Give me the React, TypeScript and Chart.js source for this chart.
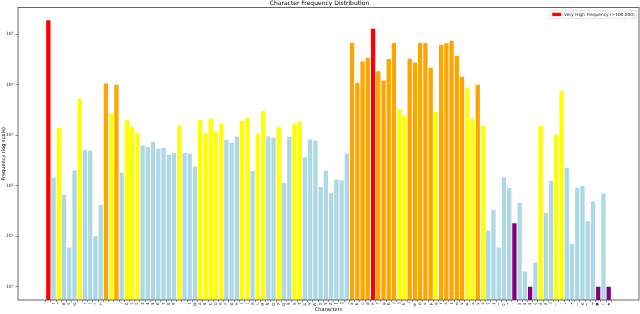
import React, { useEffect, useRef } from "react";
import { Chart, registerables } from "chart.js";

Chart.register(...registerables);

const FONT = "'DejaVu Sans', 'Liberation Sans', sans-serif";

const chars: string[] = [
  " ", "!", "\"", "#", "$", "%", "'", "(", ")", "*", "+", ",", "-", ".", "/",
  "0", "1", "2", "3", "4", "5", "6", "7", "8", "9",
  ":", ";", "?", "@",
  "A", "B", "C", "D", "E", "F", "G", "H", "I", "J", "K", "L", "M", "N", "O", "P", "Q", "R", "S", "T", "U", "V", "W", "X", "Y", "Z",
  "[", "]", "_",
  "a", "b", "c", "d", "e", "f", "g", "h", "i", "j", "k", "l", "m", "n", "o", "p", "q", "r", "s", "t", "u", "v", "w", "x", "y", "z",
  "{", "}", "~", "©", "°", "´", "à", "â", "ä", "ç", "é", "ê", "ï", "—", "’", "“", "•", "…", "€", "™", "→", "♥", "✓", "★",
];

const frequencies: number[] = [
  189000, 145, 1410, 66, 6, 200, 5300, 515, 492, 10, 42, 10660, 2670, 10050, 180,
  2000, 1475, 1120, 628, 583, 743, 540, 565, 410, 443,
  1565, 443, 435, 240,
  2000, 1105, 2155, 1163, 1667, 803, 710, 947, 1966, 2224, 195, 1086, 3020, 947, 893, 1475, 114, 934, 1714, 1853, 369, 826, 778, 94, 198, 72,
  133, 129, 435,
  68400, 11000, 29100, 34500, 129700, 18450, 12220, 32500, 67500, 3310, 2470, 32950, 27800, 68400, 67500, 21850, 2885, 62500, 66250, 75000, 37250, 14480, 8880, 2125, 10050, 1523,
  13, 33, 6, 148, 90, 18, 46, 2, 1, 3, 1523, 29, 125, 1037, 7640, 227, 7, 91, 100, 20, 49, 1, 70, 1,
];

// R = very high, O = high, Y = medium, B = low, P = rare
const groups: string[] = [
  "R", "B", "Y", "B", "B", "B", "Y", "B", "B", "B", "B", "O", "Y", "O", "B",
  "Y", "Y", "Y", "B", "B", "B", "B", "B", "B", "B",
  "Y", "B", "B", "B",
  "Y", "Y", "Y", "Y", "Y", "B", "B", "B", "Y", "Y", "B", "Y", "Y", "B", "B", "Y", "B", "B", "Y", "Y", "B", "B", "B", "B", "B", "B",
  "B", "B", "B",
  "O", "O", "O", "O", "R", "O", "O", "O", "O", "Y", "Y", "O", "O", "O", "O", "O", "Y", "O", "O", "O", "O", "O", "Y", "Y", "O", "Y",
  "B", "B", "B", "B", "B", "P", "B", "B", "P", "B", "Y", "B", "B", "Y", "Y", "B", "B", "B", "B", "B", "B", "P", "B", "P",
];

const groupColors: Record<string, string> = {
  R: "#ff0000",
  O: "#ffa500",
  Y: "#ffff00",
  B: "#add8e6",
  P: "#800080",
};

const yTickValues: number[] = [1, 10, 100, 1000, 10000, 100000];
const supers = ["⁰", "¹", "²", "³", "⁴", "⁵", "⁶"];
const legendLabel = "Very High Frequency (>100,000)";

const framePlugin = {
  id: "frame",
  afterDatasetsDraw(chart: any) {
    const { ctx, chartArea: a } = chart;
    ctx.save();
    ctx.strokeStyle = "#444";
    ctx.lineWidth = 0.8;
    ctx.strokeRect(a.left, a.top, a.right - a.left, a.bottom - a.top);
    ctx.restore();
  },
};

const legendPlugin = {
  id: "insideLegend",
  afterDraw(chart: any) {
    const { ctx, chartArea: a } = chart;
    ctx.save();
    ctx.font = `4.3px ${FONT}`;
    const tw = ctx.measureText(legendLabel).width;
    const boxW = 2.3 + 9 + 3 + tw + 2;
    const boxH = 7.6;
    const x = a.right - 2.3 - boxW;
    const y = a.top + 3.2;
    ctx.fillStyle = "rgba(255,255,255,0.85)";
    ctx.strokeStyle = "#d0d0d0";
    ctx.lineWidth = 0.6;
    ctx.beginPath();
    ctx.rect(x, y, boxW, boxH);
    ctx.fill();
    ctx.stroke();
    ctx.fillStyle = groupColors.R;
    ctx.fillRect(x + 2.3, y + 2, 9, 3.4);
    ctx.fillStyle = "#222";
    ctx.textBaseline = "middle";
    ctx.textAlign = "left";
    ctx.fillText(legendLabel, x + 2.3 + 9 + 3, y + boxH / 2);
    ctx.restore();
  },
};

export default function App() {
  const ref = useRef<HTMLCanvasElement | null>(null);

  useEffect(() => {
    if (!ref.current) return;
    const chart = new Chart(ref.current, {
      type: "bar",
      data: {
        datasets: [
          {
            label: legendLabel,
            data: frequencies.map((v, i) => ({ x: i, y: v })),
            backgroundColor: groups.map((g) => groupColors[g]),
            borderWidth: 0,
            barPercentage: 0.82,
            categoryPercentage: 1,
          },
        ],
      },
      options: {
        responsive: false,
        animation: false,
        layout: { padding: { left: 0, right: 1, top: 0, bottom: 0 } },
        plugins: {
          legend: { display: false },
          tooltip: { enabled: false },
          title: {
            display: true,
            text: "Character Frequency Distribution",
            color: "#000",
            font: { family: FONT, size: 6, weight: "normal", lineHeight: 1 },
            padding: { top: 0.5, bottom: 1 },
          },
        },
        scales: {
          x: {
            type: "linear",
            min: -5.79,
            max: 112.79,
            offset: false,
            afterBuildTicks: (axis: any) => {
              axis.ticks = chars.map((_, i) => ({ value: i }));
            },
            afterFit: (axis: any) => {
              axis.height = 14;
            },
            ticks: {
              autoSkip: false,
              minRotation: 90,
              maxRotation: 90,
              padding: 0.5,
              color: "#222",
              font: { family: FONT, size: 4 },
              callback: (value: any) => {
                const i = Math.round(Number(value));
                return chars[i] ?? "";
              },
            },
            grid: {
              display: true,
              drawOnChartArea: false,
              drawTicks: true,
              tickLength: 2,
              color: "#444",
              lineWidth: 0.6,
            },
            border: { display: false },
            title: {
              display: true,
              text: "Characters",
              color: "#000",
              font: { family: FONT, size: 5, lineHeight: 1.2 },
              padding: { top: 0, bottom: 1 },
            },
          },
          y: {
            type: "logarithmic",
            min: 0.545,
            max: 340000,
            afterBuildTicks: (axis: any) => {
              axis.ticks = yTickValues.map((value) => ({ value }));
            },
            afterFit: (axis: any) => {
              axis.width = 18;
            },
            ticks: {
              autoSkip: false,
              padding: 2,
              color: "#222",
              font: { family: FONT, size: 4.5 },
              callback: (value: any) => {
                const e = Math.round(Math.log10(Number(value)));
                return "10" + (supers[e] ?? "");
              },
            },
            grid: {
              display: true,
              drawOnChartArea: false,
              drawTicks: true,
              tickLength: 2.5,
              color: "#444",
              lineWidth: 0.6,
            },
            border: { display: false },
            title: {
              display: true,
              text: "Frequency (log scale)",
              color: "#000",
              font: { family: FONT, size: 5, lineHeight: 1.2 },
              padding: { top: 1, bottom: 0 },
            },
          },
        },
      },
      plugins: [framePlugin, legendPlugin],
    } as any);
    return () => chart.destroy();
  }, []);

  return (
    <div style={{ position: "fixed", left: 0, top: 0, width: 640, height: 314, background: "#fff" }}>
      <canvas ref={ref} width={640} height={314} style={{ display: "block", width: 640, height: 314 }} />
    </div>
  );
}
